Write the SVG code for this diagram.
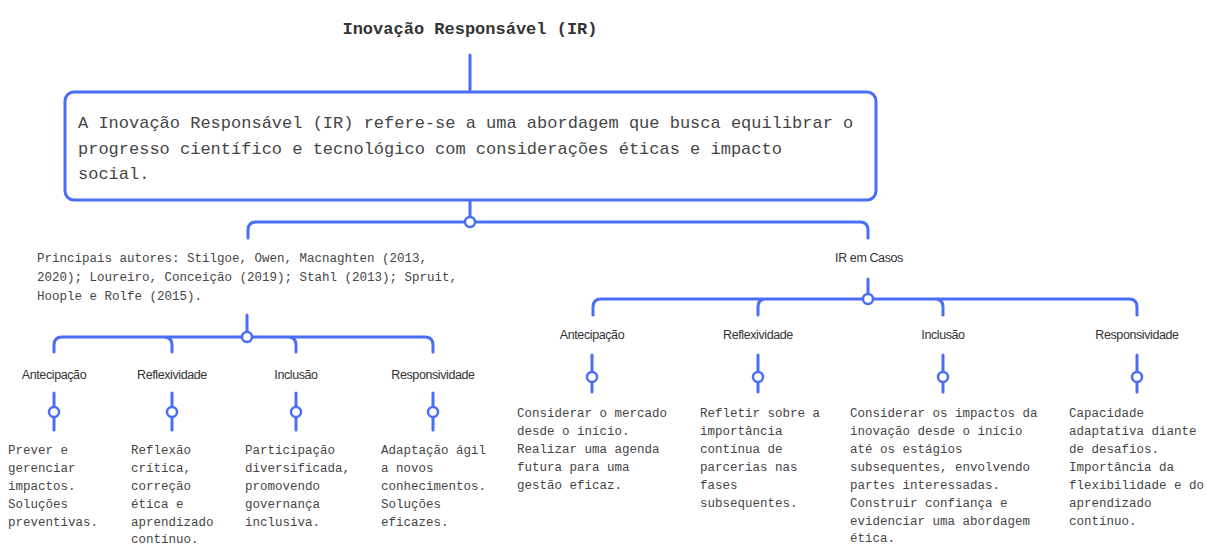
<svg xmlns="http://www.w3.org/2000/svg" width="1207" height="546" viewBox="0 0 1207 546">
<style>
.mono{font-family:"Liberation Mono","DejaVu Sans Mono",monospace;fill:#454545}
.title{font-size:17px;font-weight:bold;fill:#333}
.main{font-size:17px}
.small{font-size:12.5px}
.lbl{font-family:"Liberation Sans",Arial,sans-serif;font-size:12.5px;fill:#333;text-anchor:middle;letter-spacing:-0.4px}
.ln{fill:none;stroke:#4a6ef6;stroke-width:3;stroke-linecap:round}
.dot{fill:#fff;stroke:#4a6ef6;stroke-width:2.5}
.box{fill:#fff;stroke:#4a6ef6;stroke-width:3}
</style>
<rect width="1207" height="546" fill="#fff"/>
<g id="connectors">
<path class="ln" d="M470,55 V92"/>
<path class="ln" d="M470,200 V222 M470,222 H256 Q248,222 248,230 V238 M470,222 H860 Q868,222 868,230 V238"/>
<path class="ln" d="M247,315 V337 M247,337 H62 Q54,337 54,345 V352 M247,337 H164 Q172,337 172,345 V352 M247,337 H288 Q296,337 296,345 V352 M247,337 H425 Q433,337 433,345 V352"/>
<path class="ln" d="M868,279 V299 M868,299 H601 Q593,299 593,307 V315 M868,299 H766 Q758,299 758,307 V315 M868,299 H935 Q943,299 943,307 V315 M868,299 H1129 Q1137,299 1137,307 V315"/>
<path class="ln" d="M54,393 V430 M172,393 V430 M296,393 V430 M433,393 V430"/>
<path class="ln" d="M592,355 V392 M758,355 V392 M943,355 V392 M1137,355 V392"/>
<circle class="dot" cx="470" cy="222" r="5"/>
<circle class="dot" cx="247" cy="337" r="5"/>
<circle class="dot" cx="868" cy="299" r="5"/>
<circle class="dot" cx="54" cy="412" r="5"/>
<circle class="dot" cx="172" cy="412" r="5"/>
<circle class="dot" cx="296" cy="412" r="5"/>
<circle class="dot" cx="433" cy="412" r="5"/>
<circle class="dot" cx="592" cy="377" r="5"/>
<circle class="dot" cx="758" cy="377" r="5"/>
<circle class="dot" cx="943" cy="377" r="5"/>
<circle class="dot" cx="1137" cy="377" r="5"/>
</g>
<g id="title"><text class="mono title" x="470" y="34" text-anchor="middle">Inovação Responsável (IR)</text></g>
<g id="definicao">
<rect class="box" x="65" y="92" width="811" height="108" rx="9"/>
<text class="mono main" x="78"><tspan x="78" y="128">A Inovação Responsável (IR) refere-se a uma abordagem que busca equilibrar o</tspan><tspan x="78" y="154">progresso científico e tecnológico com considerações éticas e impacto</tspan><tspan x="78" y="179">social.</tspan></text>
</g>
<g id="autores">
<text class="mono small"><tspan x="37" y="262">Principais autores: Stilgoe, Owen, Macnaghten (2013,</tspan><tspan x="37" y="281">2020); Loureiro, Conceição (2019); Stahl (2013); Spruit,</tspan><tspan x="37" y="300">Hoople e Rolfe (2015).</tspan></text>
</g>
<g id="casos"><text class="lbl" x="869" y="262">IR em Casos</text></g>
<g id="l-antecipacao"><text class="lbl" x="54" y="379">Antecipação</text></g>
<g id="l-reflexividade"><text class="lbl" x="172" y="379">Reflexividade</text></g>
<g id="l-inclusao"><text class="lbl" x="296" y="379">Inclusão</text></g>
<g id="l-responsividade"><text class="lbl" x="433" y="379">Responsividade</text></g>
<g id="r-antecipacao"><text class="lbl" x="592" y="339">Antecipação</text></g>
<g id="r-reflexividade"><text class="lbl" x="758" y="339">Reflexividade</text></g>
<g id="r-inclusao"><text class="lbl" x="943" y="339">Inclusão</text></g>
<g id="r-responsividade"><text class="lbl" x="1137" y="339">Responsividade</text></g>
<g id="l-antecipacao-desc"><text class="mono small"><tspan x="8" y="454">Prever e</tspan><tspan x="8" y="472">gerenciar</tspan><tspan x="8" y="490">impactos.</tspan><tspan x="8" y="508">Soluções</tspan><tspan x="8" y="526">preventivas.</tspan></text></g>
<g id="l-reflexividade-desc"><text class="mono small"><tspan x="131" y="454">Reflexão</tspan><tspan x="131" y="472">crítica,</tspan><tspan x="131" y="490">correção</tspan><tspan x="131" y="508">ética e</tspan><tspan x="131" y="526">aprendizado</tspan><tspan x="131" y="543">contínuo.</tspan></text></g>
<g id="l-inclusao-desc"><text class="mono small"><tspan x="245" y="454">Participação</tspan><tspan x="245" y="472">diversificada,</tspan><tspan x="245" y="490">promovendo</tspan><tspan x="245" y="508">governança</tspan><tspan x="245" y="526">inclusiva.</tspan></text></g>
<g id="l-responsividade-desc"><text class="mono small"><tspan x="381" y="454">Adaptação ágil</tspan><tspan x="381" y="472">a novos</tspan><tspan x="381" y="490">conhecimentos.</tspan><tspan x="381" y="508">Soluções</tspan><tspan x="381" y="526">eficazes.</tspan></text></g>
<g id="r-antecipacao-desc"><text class="mono small"><tspan x="517" y="417">Considerar o mercado</tspan><tspan x="517" y="435">desde o início.</tspan><tspan x="517" y="453">Realizar uma agenda</tspan><tspan x="517" y="471">futura para uma</tspan><tspan x="517" y="489">gestão eficaz.</tspan></text></g>
<g id="r-reflexividade-desc"><text class="mono small"><tspan x="700" y="417">Refletir sobre a</tspan><tspan x="700" y="435">importância</tspan><tspan x="700" y="453">contínua de</tspan><tspan x="700" y="471">parcerias nas</tspan><tspan x="700" y="489">fases</tspan><tspan x="700" y="507">subsequentes.</tspan></text></g>
<g id="r-inclusao-desc"><text class="mono small"><tspan x="850" y="417">Considerar os impactos da</tspan><tspan x="850" y="435">inovação desde o início</tspan><tspan x="850" y="453">até os estágios</tspan><tspan x="850" y="471">subsequentes, envolvendo</tspan><tspan x="850" y="489">partes interessadas.</tspan><tspan x="850" y="507">Construir confiança e</tspan><tspan x="850" y="525">evidenciar uma abordagem</tspan><tspan x="850" y="542">ética.</tspan></text></g>
<g id="r-responsividade-desc"><text class="mono small"><tspan x="1069" y="417">Capacidade</tspan><tspan x="1069" y="435">adaptativa diante</tspan><tspan x="1069" y="453">de desafios.</tspan><tspan x="1069" y="471">Importância da</tspan><tspan x="1069" y="489">flexibilidade e do</tspan><tspan x="1069" y="507">aprendizado</tspan><tspan x="1069" y="525">contínuo.</tspan></text></g>
</svg>
